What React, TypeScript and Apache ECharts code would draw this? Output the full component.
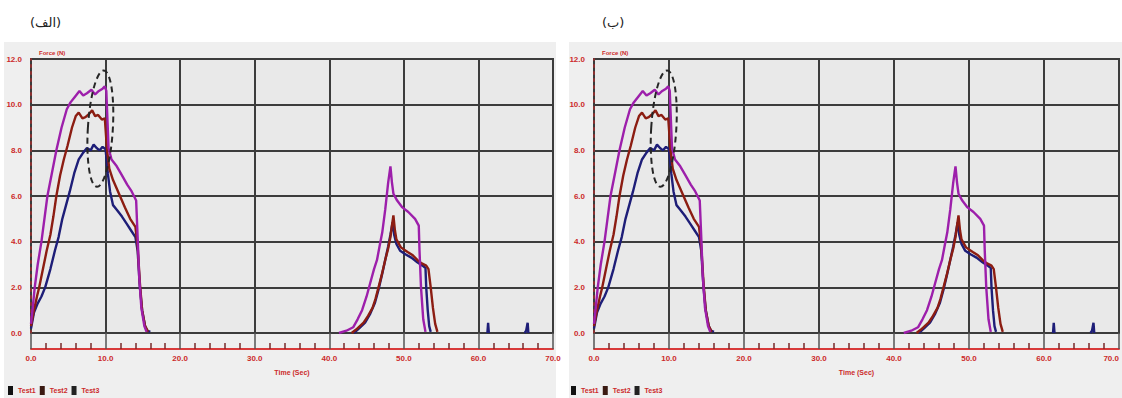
import React, { useEffect, useRef } from "react";
import * as echarts from "echarts";

// ---- data (time [s], force [N]) ----
const panelTitles = ["(الف)", "(ب)"];
const testNames = ["Test1", "Test2", "Test3"];
const testColors = ["#1e1e78", "#8c1d12", "#9d1fab"];
const legendIconColors = ["#111111", "#3a1a12", "#222222"];
const xTickLabelDigits = 1;

const test1: (number | null)[][] = [
  [0, 0.2], [0.4, 0.9], [0.9, 1.3], [1.4, 1.6], [1.9, 2.0], [2.6, 2.8], [3.2, 3.6], [3.7, 4.2],
  [4.2, 5.0], [4.7, 5.6], [5.2, 6.2], [5.8, 7.0], [6.4, 7.6], [7.0, 7.9], [7.5, 8.1], [8.0, 8.0],
  [8.4, 8.25], [8.8, 8.1], [9.2, 8.0], [9.6, 8.15], [10.0, 8.05], [10.3, 7.0], [10.6, 6.2],
  [11.0, 5.6], [11.5, 5.4], [12.2, 5.1], [12.8, 4.8], [13.4, 4.5], [14.0, 4.2], [14.3, 3.6],
  [14.6, 2.0], [14.9, 1.0], [15.3, 0.3], [15.6, 0.1], [16.0, 0.05],
  [20, null],
  [43.3, 0], [44.0, 0.2], [44.8, 0.45], [45.5, 0.85], [46.1, 1.3], [46.6, 1.9], [47.1, 2.6],
  [47.5, 3.2], [47.9, 3.8], [48.2, 4.3], [48.5, 4.85], [48.7, 4.3], [49.0, 3.9], [49.5, 3.6],
  [50.2, 3.45], [51.0, 3.3], [51.8, 3.1], [52.5, 2.95], [52.9, 2.85], [53.0, 2.0], [53.2, 1.0],
  [53.4, 0.3], [53.6, 0.05],
  [58, null],
  [61.2, 0], [61.3, 0.45], [61.4, 0],
  [64, null],
  [66.2, 0], [66.4, 0.1], [66.6, 0.45], [66.7, 0],
];

const test2: (number | null)[][] = [
  [0, 0.3], [0.4, 1.0], [0.8, 1.6], [1.1, 2.0], [1.6, 2.8], [2.1, 3.6], [2.6, 4.3], [3.0, 5.1],
  [3.4, 6.0], [3.9, 6.9], [4.4, 7.6], [4.9, 8.2], [5.5, 9.0], [6.0, 9.5], [6.4, 9.65], [6.9, 9.4],
  [7.3, 9.45], [7.8, 9.6], [8.2, 9.75], [8.6, 9.5], [9.0, 9.55], [9.5, 9.35], [9.9, 9.4],
  [10.2, 8.0], [10.5, 7.2], [11.0, 6.7], [11.8, 6.1], [12.6, 5.5], [13.3, 5.0], [14.0, 4.65],
  [14.3, 3.8], [14.6, 2.2], [14.9, 1.0], [15.3, 0.3], [15.7, 0.05],
  [20, null],
  [43.0, 0], [43.6, 0.15], [44.6, 0.45], [45.2, 0.75], [45.8, 1.1], [46.2, 1.5], [46.6, 2.0],
  [47.0, 2.5], [47.5, 3.2], [47.9, 3.7], [48.2, 4.2], [48.4, 4.7], [48.6, 5.15], [48.8, 4.5],
  [49.0, 4.1], [49.6, 3.75], [50.5, 3.55], [51.2, 3.4], [51.8, 3.2], [52.4, 3.05], [53.0, 2.95],
  [53.3, 2.8], [53.6, 2.0], [53.9, 1.1], [54.2, 0.4], [54.5, 0.05],
];

const test3: (number | null)[][] = [
  [0, 0.4], [0.2, 1.0], [0.5, 2.0], [0.9, 3.0], [1.4, 4.0], [1.8, 5.0], [2.2, 6.0], [2.8, 7.0],
  [3.4, 8.0], [4.1, 9.0], [4.8, 9.8], [5.3, 10.1], [5.9, 10.35], [6.5, 10.6], [7.0, 10.4],
  [7.5, 10.5], [8.1, 10.65], [8.6, 10.45], [9.1, 10.6], [9.6, 10.7], [9.9, 10.8], [10.1, 10.6],
  [10.4, 8.1], [10.8, 7.6], [11.5, 7.3], [12.2, 6.9], [12.9, 6.5], [13.5, 6.2], [14.1, 5.8],
  [14.3, 4.2], [14.5, 2.5], [14.8, 1.1], [15.2, 0.3], [15.5, 0.05],
  [20, null],
  [41.3, 0], [42.3, 0.1], [43.2, 0.25], [43.8, 0.6], [44.4, 1.0], [45.0, 1.6], [45.5, 2.2],
  [46.0, 2.8], [46.4, 3.2], [46.8, 3.9], [47.1, 4.4], [47.5, 5.4], [47.9, 6.6], [48.2, 7.3],
  [48.4, 6.6], [48.6, 6.1], [49.1, 5.8], [49.8, 5.5], [50.6, 5.3], [51.5, 5.0], [52.0, 4.7],
  [52.1, 3.6], [52.3, 2.0], [52.6, 0.6], [52.9, 0.05],
];

// dashed ellipse annotation: [centre time, centre force, width (s), height (N)]
const ellipseNote = [[9.3, 8.95, 3.35, 5.1]];

const testData = [test1, test2, test3];

const RED = "#cc2a2a";
const GRID = "#3c3c3c";

export default function App() {
  const ref = useRef<HTMLDivElement>(null);

  useEffect(() => {
    if (!ref.current) return;
    const chart = echarts.init(ref.current, undefined, { renderer: "svg" });

    const panels = [0, 1];
    const gridBoxes = [
      { left: 31, width: 522 },
      { left: 594, width: 527 },
    ];
    const bgRects = [
      { x: 4, width: 552 },
      { x: 569, width: 560 },
    ];
    const titleLeft = [25, 597];
    const legendLeft = [8, 571];

    const fmt = (v: number) => v.toFixed(xTickLabelDigits);

    const series: any[] = [];
    panels.forEach((p) => {
      testNames.forEach((name, i) => {
        series.push({
          type: "line",
          name,
          xAxisIndex: p,
          yAxisIndex: p,
          data: testData[i],
          showSymbol: false,
          symbol: "none",
          connectNulls: false,
          color: testColors[i],
          lineStyle: { width: 2.4, color: testColors[i] },
          z: 3 + i,
        });
      });
      series.push({
        type: "custom",
        name: "note",
        xAxisIndex: p,
        yAxisIndex: p,
        data: ellipseNote,
        z: 10,
        renderItem: (_params: any, api: any) => {
          const c = api.coord([api.value(0), api.value(1)]);
          const s = api.size([api.value(2), api.value(3)]);
          return {
            type: "ellipse",
            x: c[0],
            y: c[1],
            rotation: -0.06,
            shape: { cx: 0, cy: 0, rx: s[0] / 2, ry: s[1] / 2 },
            style: { fill: "none", stroke: "#262626", lineWidth: 2, lineDash: [6, 4] },
          };
        },
      });
    });

    const option: any = {
      animation: false,
      backgroundColor: "#ffffff",
      title: panels.map((p) => ({
        text: panelTitles[p],
        left: titleLeft[p],
        top: 11,
        textStyle: { fontFamily: "DejaVu Sans", fontSize: 13, fontWeight: "normal", color: "#222" },
      })),
      graphic: panels.map((p) => ({
        type: "rect",
        z: -10,
        silent: true,
        shape: { x: bgRects[p].x, y: 42, width: bgRects[p].width, height: 360 },
        style: { fill: "#efefef" },
      })),
      legend: panels.map((p) => ({
        data: testNames.map((n, i) => ({ name: n, itemStyle: { color: legendIconColors[i] } })),
        left: legendLeft[p],
        top: 386,
        padding: 0,
        icon: "rect",
        itemWidth: 5,
        itemHeight: 9,
        itemGap: 4,
        selectedMode: false,
        textStyle: { color: RED, fontSize: 7, fontWeight: "bold", fontFamily: "Liberation Sans" },
      })),
      grid: panels.map((p) => ({
        left: gridBoxes[p].left,
        width: gridBoxes[p].width,
        top: 59,
        height: 274,
        show: true,
        backgroundColor: "#e9e9e9",
        borderColor: GRID,
        borderWidth: 2,
      })),
      xAxis: panels.map((p) => ({
        type: "value",
        gridIndex: p,
        min: 0,
        max: 70,
        interval: 10,
        offset: 16,
        name: "Time (Sec)",
        nameLocation: "middle",
        nameGap: 20,
        nameTextStyle: { color: RED, fontSize: 7, fontWeight: "bold", fontFamily: "Liberation Sans" },
        axisLine: { show: true, onZero: false, lineStyle: { color: "#d83a3a", width: 2 } },
        axisTick: { show: true, inside: true, length: 16, lineStyle: { color: "#555", width: 1.5 } },
        minorTick: { show: true, splitNumber: 5, length: 6, lineStyle: { color: "#7a2a2a", width: 1.5 } },
        axisLabel: {
          color: RED,
          fontSize: 8,
          fontWeight: "bold",
          fontFamily: "Liberation Sans",
          margin: 5,
          formatter: fmt,
          alignMaxLabel: p === 1 ? "right" : undefined,
        },
        splitLine: { show: true, lineStyle: { color: GRID, width: 2 } },
      })),
      yAxis: panels.map((p) => ({
        type: "value",
        gridIndex: p,
        min: 0,
        max: 12,
        interval: 2,
        offset: 6,
        name: "Force (N)",
        nameLocation: "end",
        nameGap: 3,
        nameTextStyle: {
          color: RED,
          fontSize: 6,
          fontWeight: "bold",
          fontFamily: "Liberation Sans",
          align: "left",
          padding: [0, 0, 0, 8],
        },
        axisLine: { show: true, lineStyle: { color: "#8a3030", width: 2, type: [2, 5] } },
        axisTick: { show: false },
        axisLabel: {
          color: RED,
          fontSize: 8,
          fontWeight: "bold",
          fontFamily: "Liberation Sans",
          margin: 3,
          formatter: fmt,
        },
        splitLine: { show: true, lineStyle: { color: GRID, width: 2 } },
      })),
      series,
    };

    chart.setOption(option);
    return () => chart.dispose();
  }, []);

  return (
    <div style={{ position: "absolute", left: 0, top: 0, width: 1122, height: 398, overflow: "hidden", background: "#fff" }}>
      <div ref={ref} style={{ width: 1122, height: 398 }} />
    </div>
  );
}
